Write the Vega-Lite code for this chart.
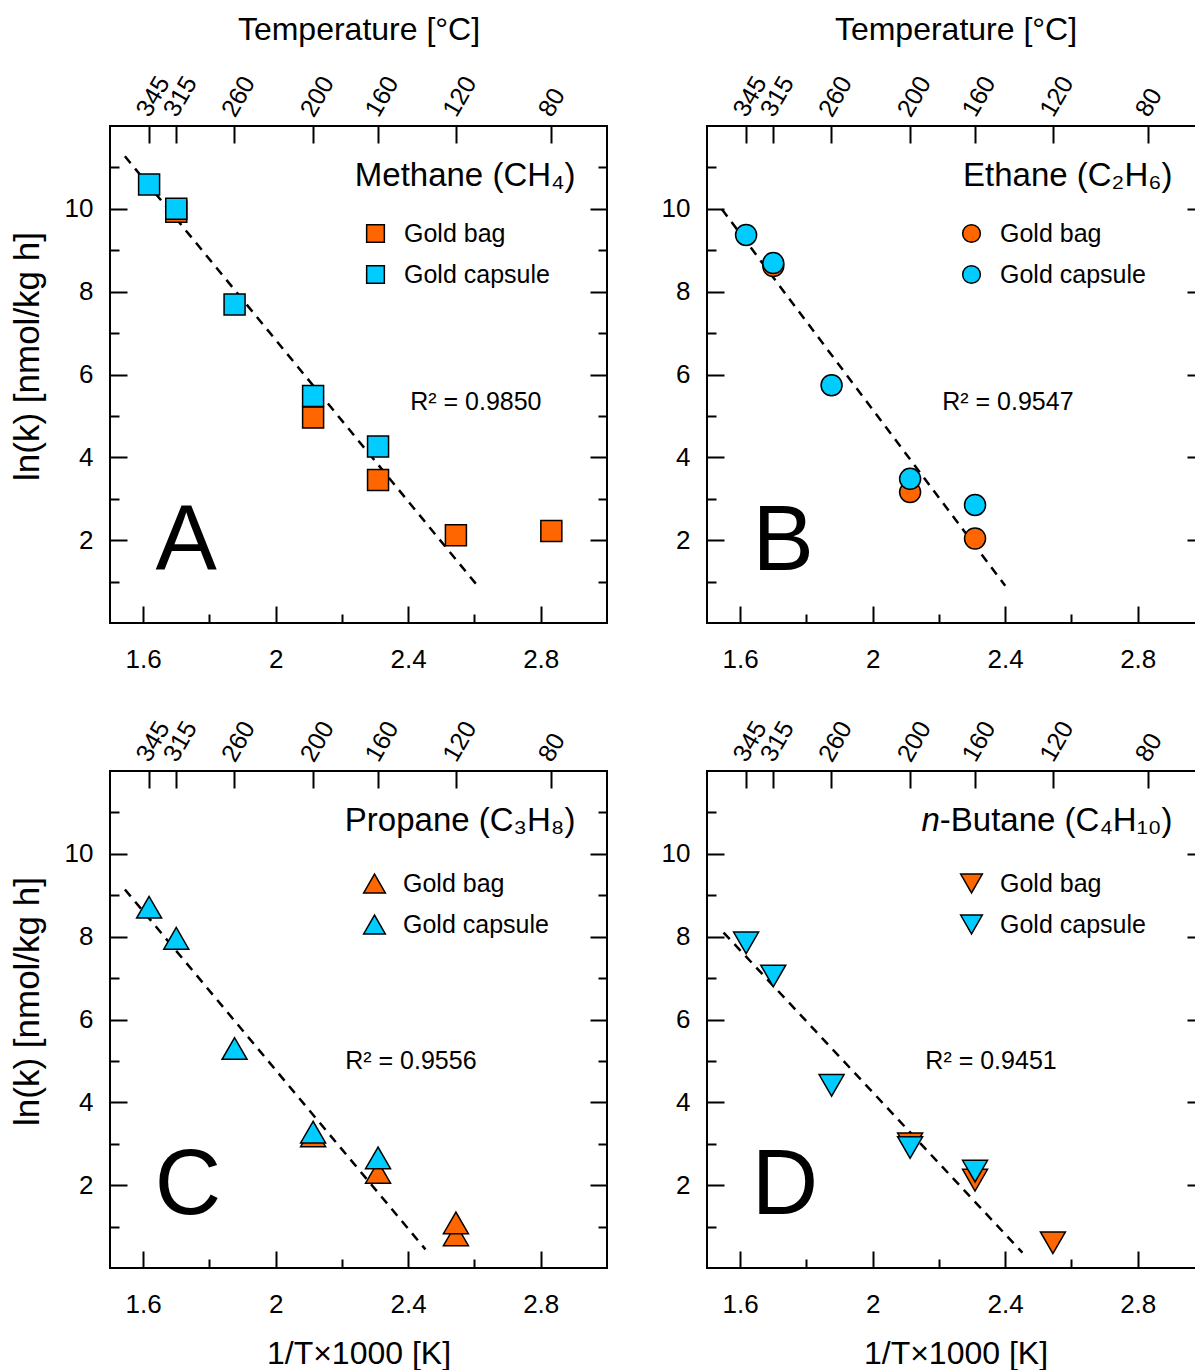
{
  "$schema": "https://vega.github.io/schema/vega-lite/v6.json",
  "padding": {"left": 9, "top": 12, "right": 0, "bottom": 0},
  "config": {
    "font": "Liberation Sans",
    "view": {"stroke": "black", "strokeWidth": 2},
    "axis": {"domain": false, "grid": false, "tickColor": "black", "tickWidth": 2, "labelColor": "black", "labelFont": "Liberation Sans", "labelFontSize": 26, "titleFont": "Liberation Sans", "titleFontSize": 32, "titleFontWeight": "normal", "titleColor": "black", "labelFlush": false, "labelOverlap": false},
    "legend": {"orient": "none", "title": null, "labelFont": "Liberation Sans", "labelFontSize": 25, "labelColor": "black", "symbolStrokeColor": "black", "symbolStrokeWidth": 1.5, "labelOffset": 16, "rowPadding": 15, "padding": 0, "symbolOpacity": 1},
    "text": {"font": "Liberation Sans", "color": "black"}
  },
  "datasets": {
    "pts": [
      {"gas": "Methane", "method": "Gold bag", "x": 1.700, "y": 9.93},
      {"gas": "Methane", "method": "Gold bag", "x": 2.113, "y": 4.96},
      {"gas": "Methane", "method": "Gold bag", "x": 2.309, "y": 3.45},
      {"gas": "Methane", "method": "Gold bag", "x": 2.544, "y": 2.12},
      {"gas": "Methane", "method": "Gold bag", "x": 2.832, "y": 2.22},
      {"gas": "Methane", "method": "Gold capsule", "x": 1.618, "y": 10.59},
      {"gas": "Methane", "method": "Gold capsule", "x": 1.700, "y": 10.0},
      {"gas": "Methane", "method": "Gold capsule", "x": 1.876, "y": 7.69},
      {"gas": "Methane", "method": "Gold capsule", "x": 2.113, "y": 5.48},
      {"gas": "Methane", "method": "Gold capsule", "x": 2.309, "y": 4.26},
      {"gas": "Ethane", "method": "Gold bag", "x": 1.700, "y": 8.62},
      {"gas": "Ethane", "method": "Gold bag", "x": 2.113, "y": 3.16},
      {"gas": "Ethane", "method": "Gold bag", "x": 2.309, "y": 2.04},
      {"gas": "Ethane", "method": "Gold capsule", "x": 1.618, "y": 9.37},
      {"gas": "Ethane", "method": "Gold capsule", "x": 1.700, "y": 8.69},
      {"gas": "Ethane", "method": "Gold capsule", "x": 1.876, "y": 5.74},
      {"gas": "Ethane", "method": "Gold capsule", "x": 2.113, "y": 3.48},
      {"gas": "Ethane", "method": "Gold capsule", "x": 2.309, "y": 2.85},
      {"gas": "Propane", "method": "Gold bag", "x": 2.113, "y": 3.19},
      {"gas": "Propane", "method": "Gold bag", "x": 2.309, "y": 2.31},
      {"gas": "Propane", "method": "Gold bag", "x": 2.544, "y": 0.80},
      {"gas": "Propane", "method": "Gold bag", "x": 2.544, "y": 1.09},
      {"gas": "Propane", "method": "Gold capsule", "x": 1.618, "y": 8.71},
      {"gas": "Propane", "method": "Gold capsule", "x": 1.700, "y": 7.96},
      {"gas": "Propane", "method": "Gold capsule", "x": 1.876, "y": 5.30},
      {"gas": "Propane", "method": "Gold capsule", "x": 2.113, "y": 3.28},
      {"gas": "Propane", "method": "Gold capsule", "x": 2.309, "y": 2.66},
      {"gas": "Butane", "method": "Gold bag", "x": 2.113, "y": 3.0},
      {"gas": "Butane", "method": "Gold bag", "x": 2.309, "y": 2.12},
      {"gas": "Butane", "method": "Gold bag", "x": 2.544, "y": 0.61},
      {"gas": "Butane", "method": "Gold capsule", "x": 1.618, "y": 7.85},
      {"gas": "Butane", "method": "Gold capsule", "x": 1.700, "y": 7.05},
      {"gas": "Butane", "method": "Gold capsule", "x": 1.876, "y": 4.41},
      {"gas": "Butane", "method": "Gold capsule", "x": 2.113, "y": 2.91},
      {"gas": "Butane", "method": "Gold capsule", "x": 2.309, "y": 2.34}
    ],
    "fits": [
      {"gas": "Methane", "x": 1.545, "y": 11.27},
      {"gas": "Methane", "x": 2.606, "y": 0.93},
      {"gas": "Ethane", "x": 1.545, "y": 9.99},
      {"gas": "Ethane", "x": 2.40, "y": 0.9},
      {"gas": "Propane", "x": 1.545, "y": 9.14},
      {"gas": "Propane", "x": 2.452, "y": 0.45},
      {"gas": "Butane", "x": 1.550, "y": 8.10},
      {"gas": "Butane", "x": 2.452, "y": 0.37}
    ]
  },
  "concat": [
    {
      "width": 497, "height": 497,
      "resolve": {"axis": {"x": "independent", "y": "independent"}},
      "layer": [
        {
          "data": {"name": "fits"},
          "transform": [{"filter": "datum.gas == 'Methane'"}],
          "mark": {"type": "line", "color": "black", "strokeWidth": 2.5, "strokeDash": [9, 7]},
          "encoding": {
            "x": {"field": "x", "type": "quantitative", "axis": {"orient": "top", "values": [1.617731, 1.700246, 1.875645, 2.113495, 2.308669, 2.543558, 2.831658], "labelExpr": "format(1000/datum.value - 273.15, '.0f')", "labelAngle": -60, "labelAlign": "left", "labelBaseline": "alphabetic", "labelFontSize": 25, "tickSize": -17, "labelPadding": 25, "title": "Temperature [°C]", "titlePadding": 25}},
            "y": {"field": "y", "type": "quantitative", "axis": {"orient": "right", "values": [1, 2, 3, 4, 5, 6, 7, 8, 9, 10, 11], "labels": false, "tickSize": {"condition": {"test": "datum.value % 2 == 0", "value": -17}, "value": -9}, "title": null}}
          }
        },
        {
          "data": {"name": "pts"},
          "transform": [{"filter": "datum.gas == 'Methane'"}],
          "mark": {"type": "point", "shape": "square", "filled": true, "size": 441, "stroke": "black", "strokeWidth": 1.5, "opacity": 1},
          "encoding": {
            "x": {"field": "x", "type": "quantitative", "scale": {"domain": [1.5, 3.0], "nice": false, "zero": false}, "axis": {"orient": "bottom", "values": [1.6, 1.8, 2.0, 2.2, 2.4, 2.6, 2.8], "format": ".1~f", "labelExpr": "round(datum.value*10) % 4 == 0 ? datum.label : ''", "tickSize": {"condition": {"test": "round(datum.value*10) % 4 == 0", "value": -17}, "value": -9}, "labelPadding": 40, "title": null}},
            "y": {"field": "y", "type": "quantitative", "scale": {"domain": [0, 12], "nice": false, "zero": false}, "axis": {"orient": "left", "values": [1, 2, 3, 4, 5, 6, 7, 8, 9, 10, 11], "labelExpr": "datum.value % 2 == 0 ? datum.label : ''", "tickSize": {"condition": {"test": "datum.value % 2 == 0", "value": -17}, "value": -9}, "labelPadding": 34, "title": "ln(k) [nmol/kg h]", "titleFontSize": 35, "titleY": 230, "titlePadding": 19}},
            "color": {"field": "method", "type": "nominal", "scale": {"domain": ["Gold bag", "Gold capsule"], "range": ["#FF6600", "#00CCFF"]}, "legend": {"legendX": 253, "legendY": 95, "symbolType": "square", "symbolSize": 313}}
          }
        },
        {"data": {"values": [{}]}, "mark": {"type": "text", "text": "Methane (CH₄)", "align": "right", "baseline": "alphabetic", "fontSize": 33}, "encoding": {"x": {"datum": 2.905, "type": "quantitative", "axis": null}, "y": {"datum": 10.55, "type": "quantitative", "axis": null}}},
        {"data": {"values": [{}]}, "mark": {"type": "text", "text": "A", "align": "center", "baseline": "alphabetic", "fontSize": 92}, "encoding": {"x": {"datum": 1.73, "type": "quantitative", "axis": null}, "y": {"datum": 1.27, "type": "quantitative", "axis": null}}},
        {"data": {"values": [{}]}, "mark": {"type": "text", "text": "R² = 0.9850", "align": "left", "baseline": "middle", "fontSize": 25}, "encoding": {"x": {"datum": 2.406, "type": "quantitative", "axis": null}, "y": {"datum": 5.34, "type": "quantitative", "axis": null}}}
      ]
    },
    {
      "width": 497, "height": 497,
      "resolve": {"axis": {"x": "independent", "y": "independent"}},
      "layer": [
        {
          "data": {"name": "fits"},
          "transform": [{"filter": "datum.gas == 'Ethane'"}],
          "mark": {"type": "line", "color": "black", "strokeWidth": 2.5, "strokeDash": [9, 7]},
          "encoding": {
            "x": {"field": "x", "type": "quantitative", "axis": {"orient": "top", "values": [1.617731, 1.700246, 1.875645, 2.113495, 2.308669, 2.543558, 2.831658], "labelExpr": "format(1000/datum.value - 273.15, '.0f')", "labelAngle": -60, "labelAlign": "left", "labelBaseline": "alphabetic", "labelFontSize": 25, "tickSize": -17, "labelPadding": 25, "title": "Temperature [°C]", "titlePadding": 25}},
            "y": {"field": "y", "type": "quantitative", "axis": {"orient": "right", "values": [1, 2, 3, 4, 5, 6, 7, 8, 9, 10, 11], "labels": false, "tickSize": {"condition": {"test": "datum.value % 2 == 0", "value": -17}, "value": -9}, "title": null}}
          }
        },
        {
          "data": {"name": "pts"},
          "transform": [{"filter": "datum.gas == 'Ethane'"}],
          "mark": {"type": "point", "shape": "circle", "filled": true, "size": 441, "stroke": "black", "strokeWidth": 1.5, "opacity": 1},
          "encoding": {
            "x": {"field": "x", "type": "quantitative", "scale": {"domain": [1.5, 3.0], "nice": false, "zero": false}, "axis": {"orient": "bottom", "values": [1.6, 1.8, 2.0, 2.2, 2.4, 2.6, 2.8], "format": ".1~f", "labelExpr": "round(datum.value*10) % 4 == 0 ? datum.label : ''", "tickSize": {"condition": {"test": "round(datum.value*10) % 4 == 0", "value": -17}, "value": -9}, "labelPadding": 40, "title": null}},
            "y": {"field": "y", "type": "quantitative", "scale": {"domain": [0, 12], "nice": false, "zero": false}, "axis": {"orient": "left", "values": [1, 2, 3, 4, 5, 6, 7, 8, 9, 10, 11], "labelExpr": "datum.value % 2 == 0 ? datum.label : ''", "tickSize": {"condition": {"test": "datum.value % 2 == 0", "value": -17}, "value": -9}, "labelPadding": 34, "title": null}},
            "color": {"field": "method", "type": "nominal", "scale": {"domain": ["Gold bag", "Gold capsule"], "range": ["#FF6600", "#00CCFF"]}, "legend": {"legendX": 252, "legendY": 95, "symbolType": "circle", "symbolSize": 313}}
          }
        },
        {"data": {"values": [{}]}, "mark": {"type": "text", "text": "Ethane (C₂H₆)", "align": "right", "baseline": "alphabetic", "fontSize": 33}, "encoding": {"x": {"datum": 2.905, "type": "quantitative", "axis": null}, "y": {"datum": 10.55, "type": "quantitative", "axis": null}}},
        {"data": {"values": [{}]}, "mark": {"type": "text", "text": "B", "align": "center", "baseline": "alphabetic", "fontSize": 92}, "encoding": {"x": {"datum": 1.73, "type": "quantitative", "axis": null}, "y": {"datum": 1.27, "type": "quantitative", "axis": null}}},
        {"data": {"values": [{}]}, "mark": {"type": "text", "text": "R² = 0.9547", "align": "left", "baseline": "middle", "fontSize": 25}, "encoding": {"x": {"datum": 2.21, "type": "quantitative", "axis": null}, "y": {"datum": 5.33, "type": "quantitative", "axis": null}}}
      ]
    },
    {
      "width": 497, "height": 497,
      "resolve": {"axis": {"x": "independent", "y": "independent"}},
      "layer": [
        {
          "data": {"name": "fits"},
          "transform": [{"filter": "datum.gas == 'Propane'"}],
          "mark": {"type": "line", "color": "black", "strokeWidth": 2.5, "strokeDash": [9, 7]},
          "encoding": {
            "x": {"field": "x", "type": "quantitative", "axis": {"orient": "top", "values": [1.617731, 1.700246, 1.875645, 2.113495, 2.308669, 2.543558, 2.831658], "labelExpr": "format(1000/datum.value - 273.15, '.0f')", "labelAngle": -60, "labelAlign": "left", "labelBaseline": "alphabetic", "labelFontSize": 25, "tickSize": -17, "labelPadding": 25, "title": null}},
            "y": {"field": "y", "type": "quantitative", "axis": {"orient": "right", "values": [1, 2, 3, 4, 5, 6, 7, 8, 9, 10, 11], "labels": false, "tickSize": {"condition": {"test": "datum.value % 2 == 0", "value": -17}, "value": -9}, "title": null}}
          }
        },
        {
          "data": {"name": "pts"},
          "transform": [{"filter": "datum.gas == 'Propane'"}],
          "mark": {"type": "point", "shape": "triangle-up", "filled": true, "size": 625, "stroke": "black", "strokeWidth": 1.5, "opacity": 1},
          "encoding": {
            "x": {"field": "x", "type": "quantitative", "scale": {"domain": [1.5, 3.0], "nice": false, "zero": false}, "axis": {"orient": "bottom", "values": [1.6, 1.8, 2.0, 2.2, 2.4, 2.6, 2.8], "format": ".1~f", "labelExpr": "round(datum.value*10) % 4 == 0 ? datum.label : ''", "tickSize": {"condition": {"test": "round(datum.value*10) % 4 == 0", "value": -17}, "value": -9}, "labelPadding": 40, "title": "1/T×1000 [K]", "titlePadding": 13}},
            "y": {"field": "y", "type": "quantitative", "scale": {"domain": [0, 12], "nice": false, "zero": false}, "axis": {"orient": "left", "values": [1, 2, 3, 4, 5, 6, 7, 8, 9, 10, 11], "labelExpr": "datum.value % 2 == 0 ? datum.label : ''", "tickSize": {"condition": {"test": "datum.value % 2 == 0", "value": -17}, "value": -9}, "labelPadding": 34, "title": "ln(k) [nmol/kg h]", "titleFontSize": 35, "titleY": 230, "titlePadding": 19}},
            "color": {"field": "method", "type": "nominal", "scale": {"domain": ["Gold bag", "Gold capsule"], "range": ["#FF6600", "#00CCFF"]}, "legend": {"legendX": 252, "legendY": 100, "symbolType": "triangle-up", "symbolSize": 470}}
          }
        },
        {"data": {"values": [{}]}, "mark": {"type": "text", "text": "Propane (C₃H₈)", "align": "right", "baseline": "alphabetic", "fontSize": 33}, "encoding": {"x": {"datum": 2.905, "type": "quantitative", "axis": null}, "y": {"datum": 10.55, "type": "quantitative", "axis": null}}},
        {"data": {"values": [{}]}, "mark": {"type": "text", "text": "C", "align": "center", "baseline": "alphabetic", "fontSize": 92}, "encoding": {"x": {"datum": 1.735, "type": "quantitative", "axis": null}, "y": {"datum": 1.3, "type": "quantitative", "axis": null}}},
        {"data": {"values": [{}]}, "mark": {"type": "text", "text": "R² = 0.9556", "align": "left", "baseline": "middle", "fontSize": 25}, "encoding": {"x": {"datum": 2.21, "type": "quantitative", "axis": null}, "y": {"datum": 5.0, "type": "quantitative", "axis": null}}}
      ]
    },
    {
      "width": 497, "height": 497,
      "resolve": {"axis": {"x": "independent", "y": "independent"}},
      "layer": [
        {
          "data": {"name": "fits"},
          "transform": [{"filter": "datum.gas == 'Butane'"}],
          "mark": {"type": "line", "color": "black", "strokeWidth": 2.5, "strokeDash": [9, 7]},
          "encoding": {
            "x": {"field": "x", "type": "quantitative", "axis": {"orient": "top", "values": [1.617731, 1.700246, 1.875645, 2.113495, 2.308669, 2.543558, 2.831658], "labelExpr": "format(1000/datum.value - 273.15, '.0f')", "labelAngle": -60, "labelAlign": "left", "labelBaseline": "alphabetic", "labelFontSize": 25, "tickSize": -17, "labelPadding": 25, "title": null}},
            "y": {"field": "y", "type": "quantitative", "axis": {"orient": "right", "values": [1, 2, 3, 4, 5, 6, 7, 8, 9, 10, 11], "labels": false, "tickSize": {"condition": {"test": "datum.value % 2 == 0", "value": -17}, "value": -9}, "title": null}}
          }
        },
        {
          "data": {"name": "pts"},
          "transform": [{"filter": "datum.gas == 'Butane'"}],
          "mark": {"type": "point", "shape": "triangle-down", "filled": true, "size": 625, "stroke": "black", "strokeWidth": 1.5, "opacity": 1},
          "encoding": {
            "x": {"field": "x", "type": "quantitative", "scale": {"domain": [1.5, 3.0], "nice": false, "zero": false}, "axis": {"orient": "bottom", "values": [1.6, 1.8, 2.0, 2.2, 2.4, 2.6, 2.8], "format": ".1~f", "labelExpr": "round(datum.value*10) % 4 == 0 ? datum.label : ''", "tickSize": {"condition": {"test": "round(datum.value*10) % 4 == 0", "value": -17}, "value": -9}, "labelPadding": 40, "title": "1/T×1000 [K]", "titlePadding": 13}},
            "y": {"field": "y", "type": "quantitative", "scale": {"domain": [0, 12], "nice": false, "zero": false}, "axis": {"orient": "left", "values": [1, 2, 3, 4, 5, 6, 7, 8, 9, 10, 11], "labelExpr": "datum.value % 2 == 0 ? datum.label : ''", "tickSize": {"condition": {"test": "datum.value % 2 == 0", "value": -17}, "value": -9}, "labelPadding": 34, "title": null}},
            "color": {"field": "method", "type": "nominal", "scale": {"domain": ["Gold bag", "Gold capsule"], "range": ["#FF6600", "#00CCFF"]}, "legend": {"legendX": 252, "legendY": 100, "symbolType": "triangle-down", "symbolSize": 470}}
          }
        },
        {"data": {"values": [{}]}, "mark": {"type": "text", "text": "-Butane (C₄H₁₀)", "align": "right", "baseline": "alphabetic", "fontSize": 33}, "encoding": {"x": {"datum": 2.905, "type": "quantitative", "axis": null}, "y": {"datum": 10.55, "type": "quantitative", "axis": null}}},
        {"data": {"values": [{}]}, "mark": {"type": "text", "text": "n", "align": "right", "baseline": "alphabetic", "fontSize": 33, "fontStyle": "italic"}, "encoding": {"x": {"datum": 2.203, "type": "quantitative", "axis": null}, "y": {"datum": 10.55, "type": "quantitative", "axis": null}}},
        {"data": {"values": [{}]}, "mark": {"type": "text", "text": "D", "align": "center", "baseline": "alphabetic", "fontSize": 92}, "encoding": {"x": {"datum": 1.735, "type": "quantitative", "axis": null}, "y": {"datum": 1.3, "type": "quantitative", "axis": null}}},
        {"data": {"values": [{}]}, "mark": {"type": "text", "text": "R² = 0.9451", "align": "left", "baseline": "middle", "fontSize": 25}, "encoding": {"x": {"datum": 2.159, "type": "quantitative", "axis": null}, "y": {"datum": 5.0, "type": "quantitative", "axis": null}}}
      ]
    }
  ],
  "columns": 2,
  "spacing": {"row": 148, "column": 100},
  "bounds": "flush",
  "resolve": {"scale": {"color": "independent"}, "legend": {"color": "independent"}}
}
